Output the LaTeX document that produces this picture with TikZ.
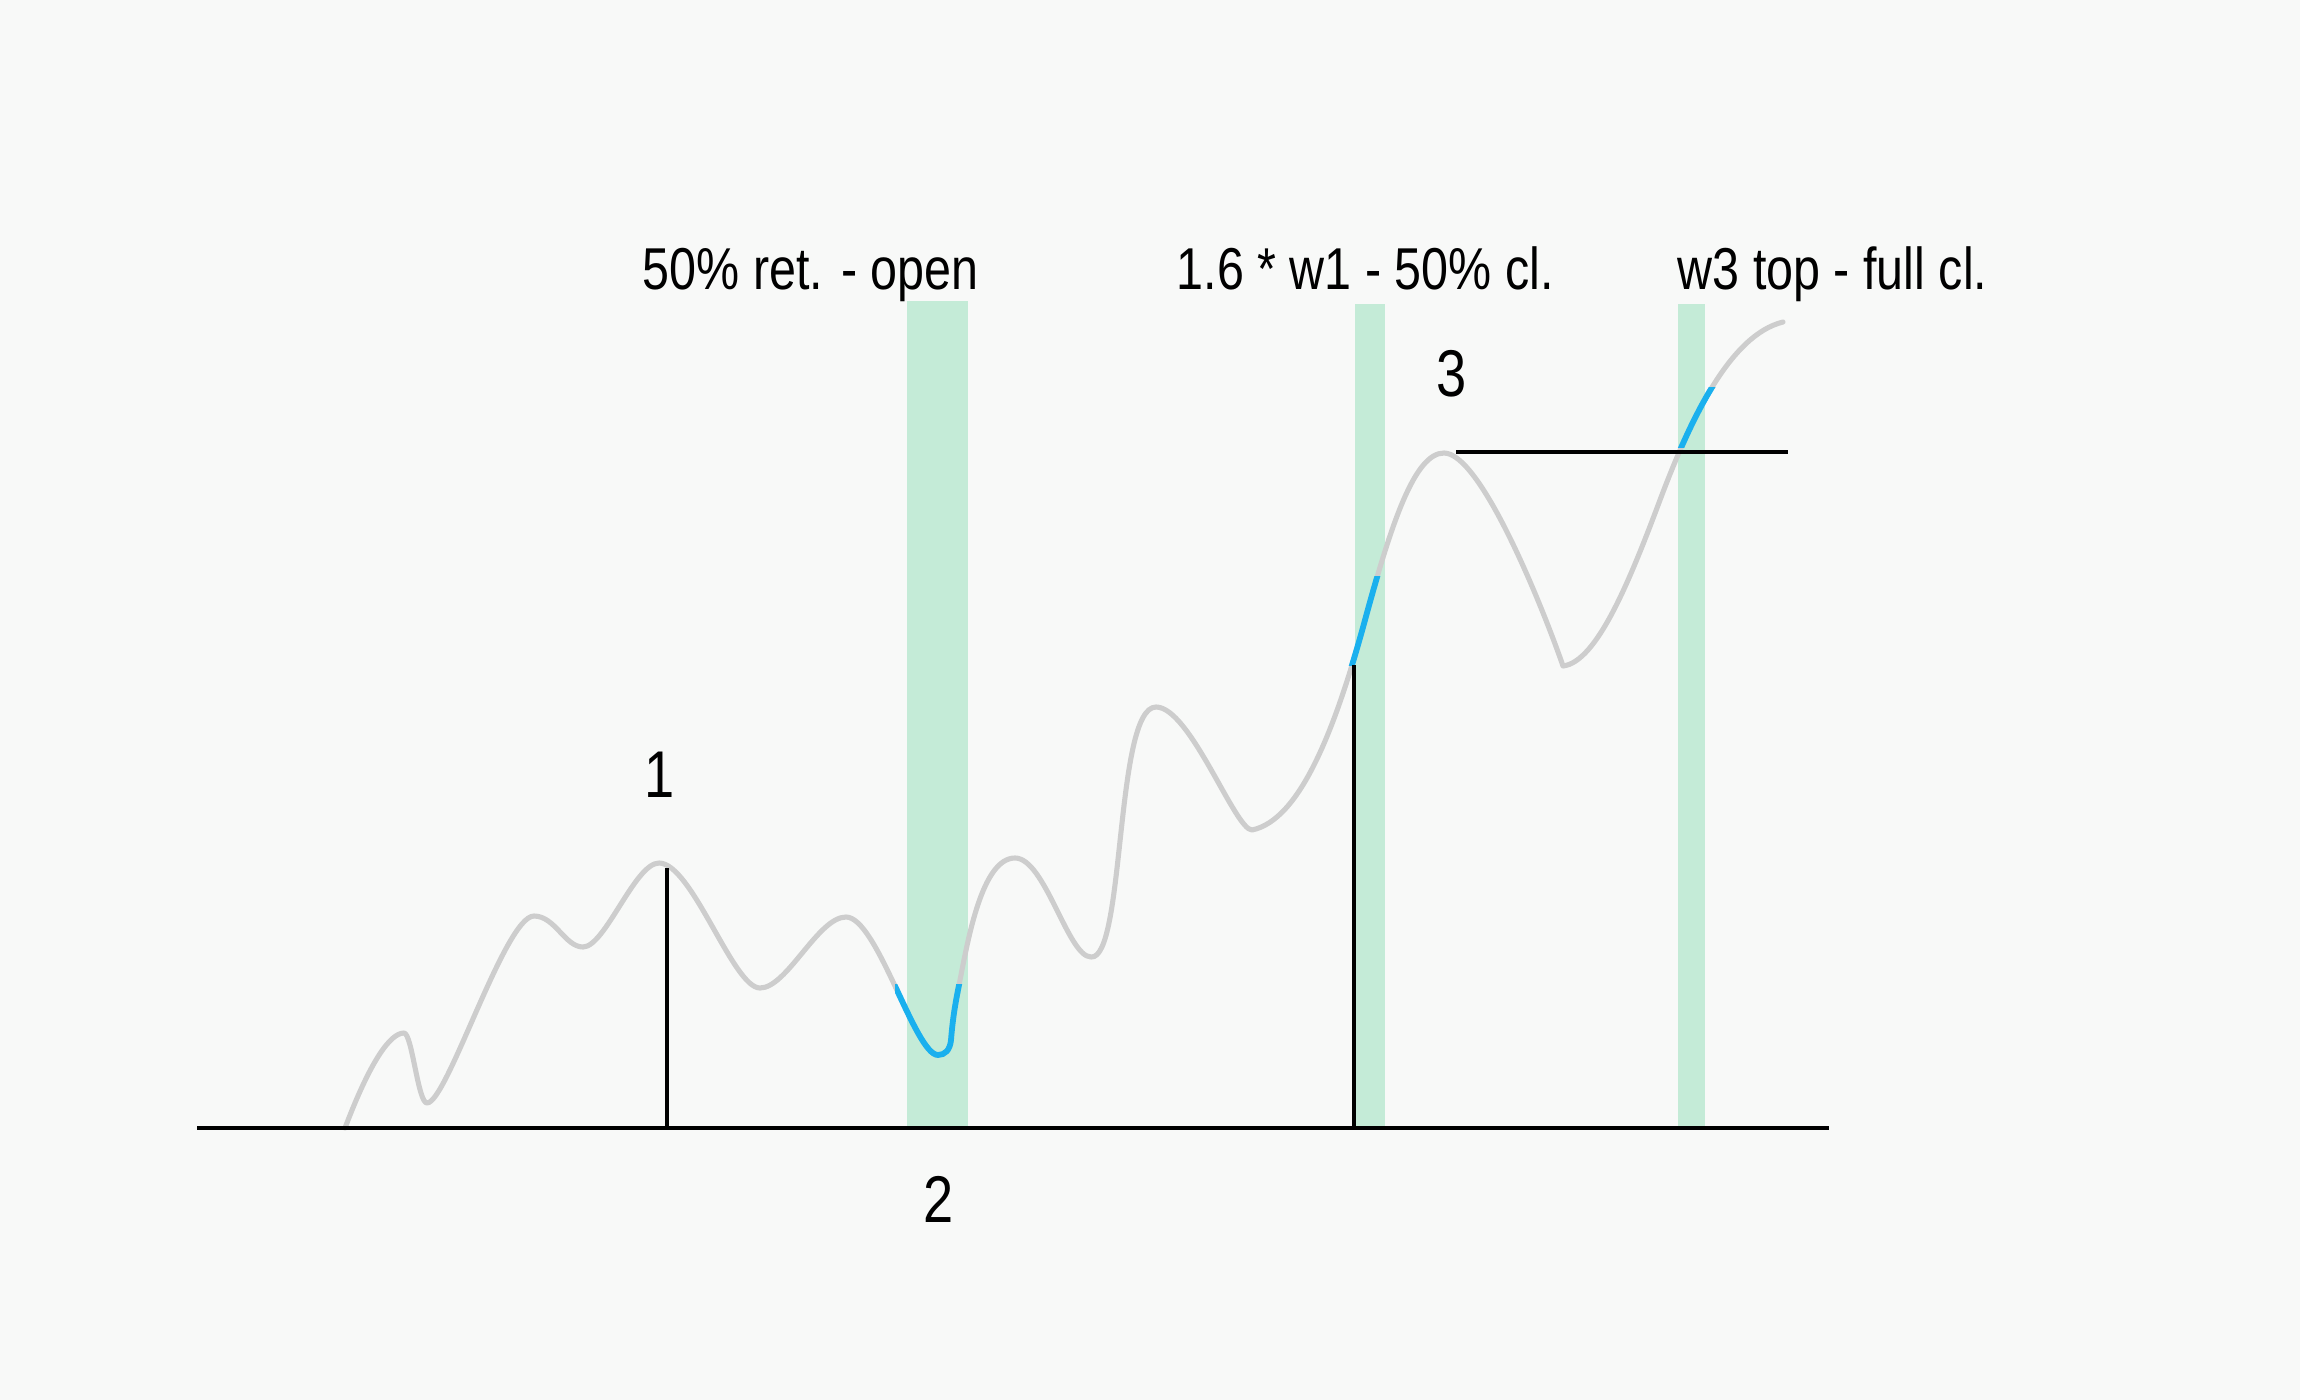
\documentclass[tikz,border=0pt]{standalone}
\usepackage{fontspec}
\newfontfamily\labfont[FakeStretch=0.82]{Liberation Sans}
\definecolor{bg}{RGB}{248,249,248}
\definecolor{barg}{RGB}{196,235,215}
\definecolor{curveg}{RGB}{205,205,205}
\definecolor{hiblue}{RGB}{26,176,238}
\tikzset{
  zonebar/.style={fill=barg, draw=none},
  refline/.style={draw=black, line width=1.1pt},
  pricecurve/.style={draw=curveg, line width=1.45pt, line join=round, line cap=round},
  hicurve/.style={draw=hiblue, line width=1.65pt, line join=round, line cap=round},
  toplabel/.style={font=\labfont\fontsize{16.8pt}{20pt}\selectfont, inner sep=0pt, anchor=base west},
  wavelabel/.style={font=\labfont\fontsize{18.8pt}{22pt}\selectfont, inner sep=0pt, anchor=base},
}
\newcommand{\pricepath}{(345,1128) .. controls (370,1062) and (390,1033) .. (404,1033)
  .. controls (412,1033) and (418,1103) .. (427,1103)
  .. controls (447,1103) and (505,916) .. (534,916)
  .. controls (555,916) and (565,947) .. (583,947)
  .. controls (605,947) and (635,863) .. (659,863)
  .. controls (692,863) and (733,988) .. (760,988)
  .. controls (787,988) and (818,917) .. (846,917)
  .. controls (877,917) and (915,1055) .. (938,1055)
  .. controls (945,1055) and (950,1050) .. (951,1040)
  .. controls (953,1015) and (956,1000) .. (960,980)
  .. controls (968,940) and (982,858) .. (1015,858)
  .. controls (1045,858) and (1068,957) .. (1091,957)
  .. controls (1125,960) and (1115,707) .. (1156,707)
  .. controls (1190,707) and (1235,830) .. (1252,830)
  .. controls (1300,820) and (1335,730) .. (1365,620)
  .. controls (1392,521) and (1415,453) .. (1444,453)
  .. controls (1480,453) and (1540,600) .. (1563,666)
  .. controls (1597,662) and (1630,580) .. (1660,500)
  .. controls (1690,420) and (1730,335) .. (1783,322)}
\begin{document}
\begin{tikzpicture}[x=0.01cm,y=-0.01cm]
  \fill[bg] (0,0) rectangle (2300,1400);
  \useasboundingbox (0,0) rectangle (2300,1400);
  % green zones
  \path[zonebar] (907,301) rectangle (968,1128);
  \path[zonebar] (1355,304) rectangle (1385,1128);
  \path[zonebar] (1678,304) rectangle (1705,1128);
  % coordinates for reference lines
  \coordinate (bl) at (197,1128);
  \coordinate (br) at (1829,1128);
  \coordinate (w1top) at (667,868);
  \coordinate (w1foot) at (667,1128);
  \coordinate (extop) at (1354,665);
  \coordinate (exfoot) at (1354,1128);
  \coordinate (w3l) at (1456,452);
  \coordinate (w3r) at (1788,452);
  % price curve
  \draw[pricecurve] \pricepath;
  \begin{scope}
    \clip (895,984) rectangle (964,1070);
    \draw[hicurve] \pricepath;
  \end{scope}
  \begin{scope}
    \clip (1340,576) rectangle (1395,665);
    \draw[hicurve] \pricepath;
  \end{scope}
  \begin{scope}
    \clip (1670,387) rectangle (1720,447);
    \draw[hicurve] \pricepath;
  \end{scope}
  % reference lines
  \draw[refline] (bl) -- (br);
  \draw[refline] (w1top) -- (w1foot);
  \draw[refline] (extop) -- (exfoot);
  \draw[refline] (w3l) -- (w3r);
  % labels
  \node[toplabel] (lopen) at (642,289) {50\% ret. - open};
  \node[toplabel] (lhalf) at (1176,289) {1.6 * w1 - 50\% cl.};
  \node[toplabel] (lfull) at (1677,289) {w3 top - full cl.};
  \node[wavelabel] (n1) at (660,797) {1};
  \node[wavelabel] (n2) at (939,1222) {2};
  \node[wavelabel] (n3) at (1452,396) {3};
\end{tikzpicture}
\end{document}
